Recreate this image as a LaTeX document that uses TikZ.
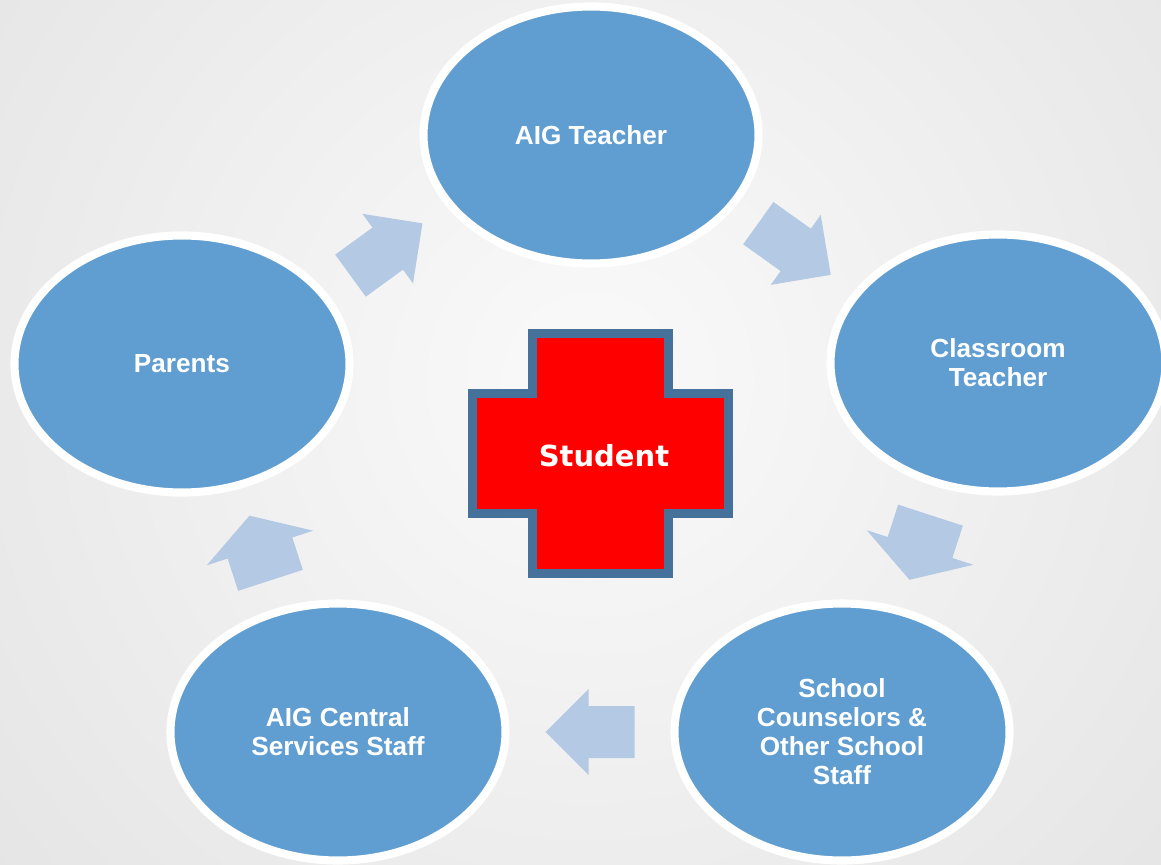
\documentclass[tikz,border=0pt]{standalone}
\usepackage{fontspec}
\setmainfont{Liberation Sans}
\newfontfamily\crossfont{DejaVu Sans}
\usepackage{tikz}
\usetikzlibrary{calc,shapes.geometric}
\definecolor{memberblue}{HTML}{609ED1}
\definecolor{flowblue}{HTML}{B4C9E4}
\definecolor{crossrim}{HTML}{46719A}
\pgfdeclareradialshading{backdrop}{\pgfpoint{0bp}{0bp}}{color(0bp)=(black!2); color(27bp)=(black!10); color(35bp)=(black!12); color(41bp)=(black!14.5); color(50bp)=(black!17)}
\def\flowarrow[#1](#2)(#3:#4:#5:#6:#7){\fill[#1, shift={(#2)}, rotate=#3] (-#4, -#5) -- ({#4-#7}, -#5) -- ({#4-#7}, -#6) -- (#4, 0) -- ({#4-#7}, #6) -- ({#4-#7}, #5) -- (-#4, #5) -- cycle;}

\begin{document}
\begin{tikzpicture}[
		member/.style={ellipse, draw=white, line width=4.6pt, fill=memberblue, minimum width=6.7cm, minimum height=5.14cm, inner sep=0pt, text=white, align=center, font=\bfseries\fontsize{14.9}{16.5}\selectfont},
		flow/.style={fill=flowblue},
		rim/.style={draw=crossrim, line width=5.1pt, fill=red, line join=miter}]
				%%%%% START %%%%%
				\useasboundingbox (0, 0) rectangle (23.22, 17.28);
				\clip (0, 0) rectangle (23.22, 17.28);
				\shade[shading=backdrop] (-2.2, -4.32) rectangle (25.8, 23.68);
				
				\node[member] (aig) at (11.82, 14.58) {AIG Teacher};
				\node[member] (classroom) at (19.96, 10.02) {Classroom\\Teacher};
				\node[member] (counselors) at (16.84, 2.64) {School\\Counselors \&\\Other School\\Staff};
				\node[member] (central) at (6.76, 2.64) {AIG Central\\Services Staff};
				\node[member] (parents) at (3.64, 10.0) {Parents};
				
				\coordinate (pa) at ($(parents)!0.5!(aig)$);
				\coordinate (ac) at ($(aig)!0.5!(classroom)$);
				\coordinate (cs) at ($(classroom)!0.5!(counselors)$);
				\coordinate (sc) at ($(counselors)!0.5!(central)$);
				\coordinate (cp) at ($(central)!0.5!(parents)$);
				
				\flowarrow[flow](pa)(36:0.89:0.52:0.86:0.86);
				\flowarrow[flow](ac)(-35.5:0.89:0.52:0.86:0.86);
				\flowarrow[flow](cs)(-108:0.68:0.68:1.12:0.68);
				\flowarrow[flow](sc)(180:0.89:0.52:0.86:0.86);
				\flowarrow[flow](cp)(108:0.68:0.68:1.12:0.68);
				
				\coordinate (heart) at (12.01, 8.21);
				\draw[rim] (heart) ++(-1.36, 2.4) -- ++(2.72, 0) -- ++(0, -1.2) -- ++(1.2, 0) -- ++(0, -2.4) -- ++(-1.2, 0) -- ++(0, -1.2) -- ++(-2.72, 0) -- ++(0, 1.2) -- ++(-1.2, 0) -- ++(0, 2.4) -- ++(1.2, 0) -- cycle;
				\node[font=\crossfont\bfseries\fontsize{16.5}{18}\selectfont, text=white] (student) at (12.08, 8.16) {Student};
				%%%%% END %%%%%
\end{tikzpicture}
\end{document}
